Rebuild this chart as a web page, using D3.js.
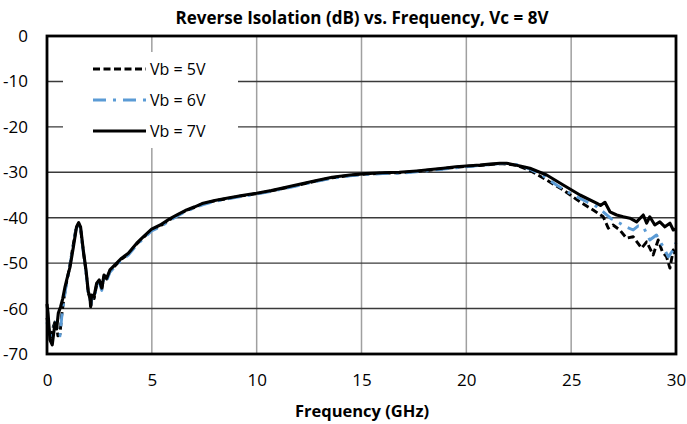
<!DOCTYPE html>
<html>
<head>
<meta charset="utf-8">
<script src="https://cdn.jsdelivr.net/npm/d3@7"></script>
<style>
body { margin: 0; background: #fff; }
text { font-family: "Open Sans", sans-serif; }
</style>
</head>
<body>
<div class="chart"></div>
<script>
var width = 687;
var height = 424;

var xTicks = [0, 5, 10, 15, 20, 25, 30];
var yTicks = [0, -10, -20, -30, -40, -50, -60, -70];

var seriesNames = ["Vb = 5V", "Vb = 6V", "Vb = 7V"];

// [GHz, dB]
var vb5 = [[0.0,-62],[0.1,-65],[0.2,-66.5],[0.3,-64],[0.42,-62.5],[0.52,-66],[0.62,-65.6],[0.7,-61.5],[0.8,-58],[0.9,-55],
  [1.05,-51.5],[1.22,-46.8],[1.38,-42.5],[1.5,-41.3],[1.6,-42.3],[1.73,-47.4],[1.86,-51.8],[1.97,-56.6],[2.05,-57.8],[2.1,-59.3],
  [2.15,-57.2],[2.25,-57.8],[2.37,-54.7],[2.49,-54.0],[2.61,-55.8],[2.72,-52.9],[2.85,-53.5],[3.0,-51.8],[3.24,-50.6],[3.56,-49.1],
  [3.88,-48.0],[4.28,-45.8],[4.59,-44.4],[4.99,-42.7],[5.4,-41.8],[5.87,-40.4],[6.2,-39.5],[6.66,-38.4],[7.05,-37.7],[7.45,-36.9],
  [8.0,-36.3],[8.57,-35.8],[9.3,-35.2],[10.0,-34.7],[10.7,-34.1],[11.4,-33.4],[12.1,-32.7],[12.86,-31.9],[13.6,-31.2],[14.45,-30.7],
  [15.2,-30.4],[16.0,-30.2],[16.8,-30.1],[17.63,-29.8],[18.3,-29.5],[18.9,-29.2],[19.5,-28.9],[20.0,-28.7],[20.65,-28.5],[21.13,-28.3],
  [21.6,-28.1],[22.0,-28.2],[22.4,-28.5],[23.03,-29.6],[23.83,-31.7],[24.62,-33.9],[25.42,-36.5],[26.05,-38.3],[26.53,-39.8],[26.77,-42.3],
  [27.0,-41.6],[27.32,-42.7],[27.64,-44.5],[27.96,-44.2],[28.36,-46.7],[28.6,-45.3],[28.91,-48.2],[29.15,-44.9],[29.35,-47.5],[29.55,-48.6],
  [29.71,-51.1],[29.87,-47.1],[30.0,-48.5]];

var vb6 = [[0.0,-63],[0.1,-65.5],[0.2,-66.8],[0.3,-64.5],[0.42,-63],[0.52,-65.5],[0.62,-66],[0.7,-62],[0.8,-58.5],[0.9,-55.3],
  [1.05,-51.8],[1.22,-47.0],[1.38,-42.6],[1.5,-41.4],[1.6,-42.4],[1.73,-47.5],[1.86,-51.9],[1.97,-56.8],[2.05,-58.0],[2.1,-59.0],
  [2.15,-57.5],[2.25,-57.9],[2.37,-54.9],[2.49,-54.2],[2.61,-56.0],[2.72,-53.1],[2.85,-53.8],[3.0,-52.0],[3.24,-50.8],[3.56,-49.3],
  [3.88,-48.2],[4.28,-46.0],[4.59,-44.6],[4.99,-42.9],[5.4,-42.0],[5.87,-40.6],[6.2,-39.7],[6.66,-38.5],[7.05,-37.8],[7.45,-37.1],
  [8.0,-36.4],[8.57,-35.9],[9.3,-35.3],[10.0,-34.8],[10.7,-34.2],[11.4,-33.5],[12.1,-32.8],[12.86,-32.0],[13.6,-31.3],[14.45,-30.8],
  [15.2,-30.5],[16.0,-30.3],[16.8,-30.2],[17.63,-29.9],[18.3,-29.6],[18.9,-29.3],[19.5,-29.0],[20.0,-28.8],[20.65,-28.5],[21.13,-28.3],
  [21.6,-28.1],[22.0,-28.1],[22.5,-28.4],[23.03,-29.3],[23.6,-30.6],[24.3,-32.8],[25.0,-34.8],[25.74,-36.5],[26.2,-37.5],[26.53,-38.7],
  [26.9,-40.2],[27.32,-41.2],[27.6,-42.0],[27.96,-42.7],[28.2,-41.8],[28.44,-42.0],[28.75,-44.9],[29.07,-43.8],[29.39,-46.4],[29.63,-48.6],
  [29.87,-47.1],[30.0,-45.5]];

var vb7 = [[0.0,-59],[0.05,-61],[0.14,-66.9],[0.25,-68],[0.38,-63.2],[0.46,-64.5],[0.54,-61],[0.65,-59.6],[0.75,-57.8],[0.86,-55.2],
  [0.94,-53.7],[1.1,-50.8],[1.26,-46.4],[1.41,-42.0],[1.51,-41.1],[1.6,-42.0],[1.73,-47.1],[1.86,-51.5],[1.97,-56.3],[2.05,-57.4],
  [2.08,-59.6],[2.13,-57.0],[2.24,-57.4],[2.37,-54.4],[2.49,-53.7],[2.61,-55.5],[2.72,-52.6],[2.85,-53.3],[3.0,-51.5],[3.24,-50.4],
  [3.56,-48.9],[3.88,-47.8],[4.28,-45.6],[4.59,-44.2],[4.99,-42.5],[5.4,-41.6],[5.87,-40.2],[6.2,-39.4],[6.66,-38.3],[7.05,-37.6],
  [7.45,-36.8],[8.0,-36.2],[8.57,-35.7],[9.3,-35.1],[10.0,-34.6],[10.7,-34.0],[11.4,-33.3],[12.1,-32.6],[12.86,-31.8],[13.6,-31.1],
  [14.45,-30.6],[15.2,-30.3],[16.0,-30.1],[16.8,-30.0],[17.63,-29.7],[18.3,-29.4],[18.9,-29.1],[19.5,-28.8],[20.0,-28.6],[20.65,-28.4],
  [21.13,-28.2],[21.6,-28.0],[21.92,-28.0],[22.56,-28.6],[23.03,-29.1],[23.83,-30.6],[24.62,-32.8],[25.42,-35.0],[26.21,-36.8],[26.4,-37.3],
  [26.61,-36.6],[26.85,-38.7],[27.17,-39.4],[27.48,-39.8],[27.8,-40.1],[28.12,-40.9],[28.44,-39.4],[28.6,-41.2],[28.75,-39.8],[28.99,-41.6],
  [29.23,-40.9],[29.47,-42.0],[29.71,-41.2],[29.87,-42.7],[30.0,-42.5]];

var styles = [
  {color: "#000", dash: "7,3.5", w: 2.9},
  {color: "#5b9bd5", dash: "13,7,3,7", w: 2.9},
  {color: "#000", dash: null, w: 3.1}
];

var plotL = 47, plotR = 676, plotT = 36, plotB = 354;

var svg = d3.select(".chart").append("svg")
  .attr("width", width)
  .attr("height", height)
  .style("display", "block");

var x = d3.scaleLinear().domain([0, 30]).range([plotL, plotR]);
var y = d3.scaleLinear().domain([-70, 0]).range([plotB, plotT]);

// grid
svg.append("g")
  .selectAll("line")
  .data(xTicks.slice(1, -1))
  .enter().append("line")
  .attr("x1", function(d) { return x(d); })
  .attr("x2", function(d) { return x(d); })
  .attr("y1", plotT).attr("y2", plotB)
  .attr("stroke", "#a0a0a0")
  .attr("stroke-width", 1.5);

svg.append("g")
  .selectAll("line")
  .data(yTicks.slice(1, -1))
  .enter().append("line")
  .attr("x1", plotL).attr("x2", plotR)
  .attr("y1", function(d) { return y(d); })
  .attr("y2", function(d) { return y(d); })
  .attr("stroke", "#3a3a3a")
  .attr("stroke-width", 1.4);

// legend box hides the grid
svg.append("rect")
  .attr("x", 63).attr("y", 52)
  .attr("width", 175).attr("height", 96)
  .attr("fill", "#fff");

var line = d3.line()
  .x(function(d) { return x(d[0]); })
  .y(function(d) { return y(d[1]); });

var series = [vb5, vb6, vb7];
svg.append("g")
  .selectAll("path")
  .data(series)
  .enter().append("path")
  .attr("d", line)
  .attr("fill", "none")
  .attr("stroke", function(d, i) { return styles[i].color; })
  .attr("stroke-width", function(d, i) { return styles[i].w; })
  .attr("stroke-dasharray", function(d, i) { return styles[i].dash; })
  .attr("stroke-linejoin", "round");

// frame
svg.append("rect")
  .attr("x", plotL).attr("y", plotT)
  .attr("width", plotR - plotL).attr("height", plotB - plotT)
  .attr("fill", "none")
  .attr("stroke", "#000")
  .attr("stroke-width", 2.8);

// axes
var gx = svg.append("g")
  .attr("transform", "translate(0," + plotB + ")")
  .call(d3.axisBottom(x).tickValues(xTicks).tickSize(0).tickPadding(20).tickFormat(d3.format("d")));
gx.select(".domain").remove();
gx.selectAll("text").attr("font-size", "17px").attr("fill", "#000").style("font-family", "'Open Sans', sans-serif");

var gy = svg.append("g")
  .attr("transform", "translate(" + plotL + ",0)")
  .call(d3.axisLeft(y).tickValues(yTicks).tickSize(0).tickPadding(19).tickFormat(function(d) { return d < 0 ? "-" + Math.abs(d) : d; }));
gy.select(".domain").remove();
gy.selectAll("text").attr("font-size", "17px").attr("fill", "#000").style("font-family", "'Open Sans', sans-serif");

// titles
svg.append("text")
  .attr("x", 362).attr("y", 24)
  .attr("text-anchor", "middle")
  .attr("font-size", "17px")
  .attr("font-weight", "bold")
  .text("Reverse Isolation (dB) vs. Frequency, Vc = 8V");

svg.append("text")
  .attr("x", 362).attr("y", 417)
  .attr("text-anchor", "middle")
  .attr("font-size", "16.5px")
  .attr("font-weight", "bold")
  .text("Frequency (GHz)");

// legend
var lg = svg.append("g")
  .selectAll("g")
  .data(seriesNames)
  .enter().append("g")
  .attr("transform", function(d, i) { return "translate(93," + (69 + i * 31) + ")"; });

lg.append("line")
  .attr("x1", 0).attr("x2", 53)
  .attr("stroke", function(d, i) { return styles[i].color; })
  .attr("stroke-width", function(d, i) { return styles[i].w; })
  .attr("stroke-dasharray", function(d, i) { return styles[i].dash; });

lg.append("text")
  .attr("x", 57).attr("y", 6)
  .attr("font-size", "16px")
  .text(function(d) { return d; });
</script>
</body>
</html>
